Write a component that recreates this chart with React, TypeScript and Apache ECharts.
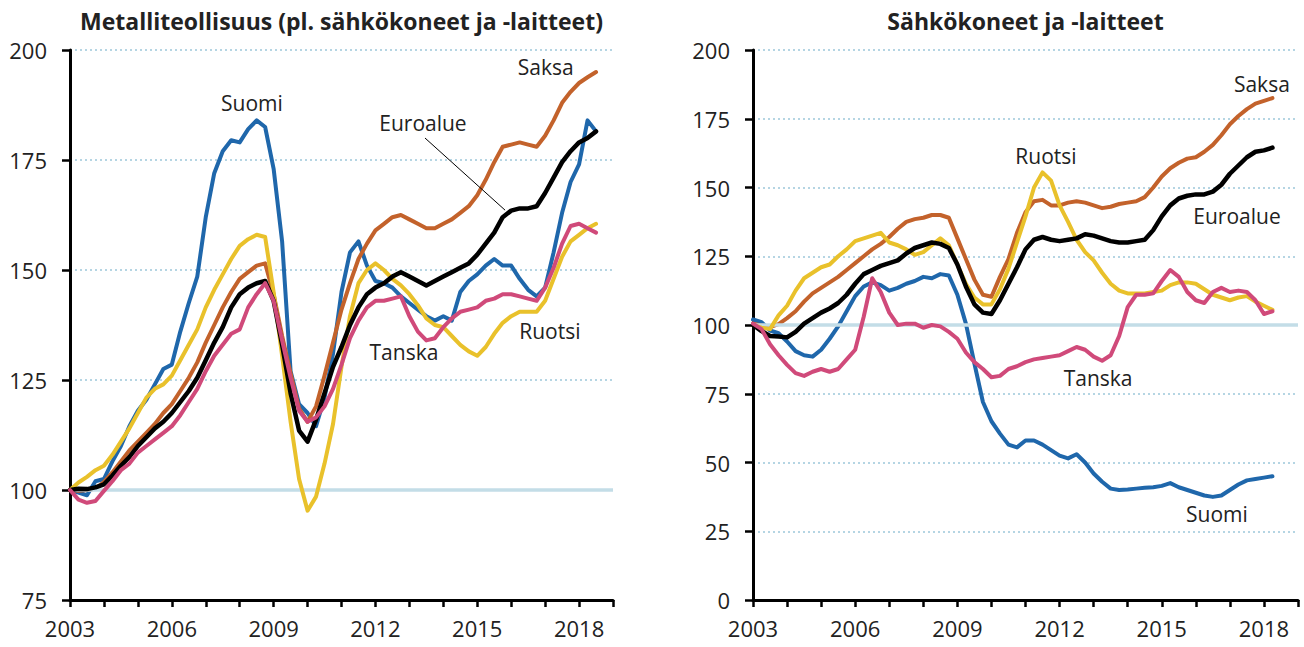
import { useEffect, useRef } from "react";
import * as echarts from "echarts";

// ---------- data (quarterly readings, index 100 = 2003) ----------
const START_YEAR = 2003;
const LEFT_END = 2018.5;
const RIGHT_END = 2018.25;

// Left panel: Metalliteollisuus (pl. sähkökoneet ja -laitteet)
const leftSuomi = [
  100, 99.4, 98.8, 102, 102.5, 106.5, 110, 114.5, 118, 120.5, 124, 127.5,
  128.5, 136, 142.5, 148.5, 162, 172, 177, 179.5, 179, 182, 184, 182.5,
  173, 156.5, 127, 119.5, 117.5, 114.5, 121, 131, 145, 154, 156.5, 151,
  147.5, 147, 146, 144, 142.5, 141, 139.5, 138.5, 139.5, 138.5, 145, 147.5,
  149, 151, 152.5, 151, 151, 148, 145.5, 144, 146, 154, 163, 170,
  174, 184, 181.5,
];
const leftSaksa = [
  100, 99.8, 100, 100.3, 101.8, 104, 106.5, 109, 111, 113, 115, 117.5,
  119.5, 122.5, 125.5, 129, 133.5, 137.5, 141.5, 145, 148, 149.5, 151, 151.5,
  144.5, 135, 126.5, 118.5, 115.5, 119, 126, 133.5, 141, 147, 152.5, 156,
  159, 160.5, 162, 162.5, 161.5, 160.5, 159.5, 159.5, 160.5, 161.5, 163, 164.5,
  167, 170.5, 174.5, 178, 178.5, 179, 178.5, 178, 180.5, 184, 188, 190.5,
  192.5, 193.8, 195,
];
const leftRuotsi = [
  100, 101.7, 103, 104.5, 105.5, 108, 111, 114, 117.5, 121, 123, 124,
  126, 129.5, 133, 136.5, 141.5, 145.5, 149, 152.5, 155.5, 157, 158, 157.5,
  145, 130.5, 115.5, 102.5, 95.3, 98.5, 106, 115, 128, 139.5, 147, 150,
  151.5, 150, 148, 146.5, 144.5, 142, 139, 137.5, 137, 135, 133, 131.5,
  130.5, 132.5, 135.5, 138, 139.5, 140.5, 140.5, 140.5, 143, 148, 153, 156.5,
  158, 159.5, 160.5,
];
const leftEuroalue = [
  100, 100.3, 100.2, 100.6, 101.3, 103.3, 105.5, 107.5, 110, 112, 114, 115.5,
  117.5, 120, 122.5, 125.5, 129.5, 133.5, 137, 141.5, 144.5, 146, 147, 147.5,
  143, 133, 122, 113.5, 111, 116, 122, 128, 132.5, 137.5, 141.5, 144.5,
  146, 147, 148.5, 149.5, 148.5, 147.5, 146.5, 147.5, 148.5, 149.5, 150.5, 151.5,
  153.5, 156, 158.5, 162, 163.5, 164, 164, 164.5, 167.5, 171, 174.5, 177,
  179, 180, 181.5,
];
const leftTanska = [
  100, 97.8, 97.1, 97.5, 99.8, 102, 104.5, 106, 108.5, 110, 111.5, 113,
  114.5, 117, 120, 123, 127, 130.5, 133, 135.5, 136.5, 141.5, 144.5, 147,
  143, 134, 125.5, 118, 115.5, 116.5, 119, 123, 128.5, 134.5, 138.5, 141.5,
  143, 143, 143.5, 144, 139.5, 136, 134, 134.5, 137, 139, 140.5, 141,
  141.5, 143, 143.5, 144.5, 144.5, 144, 143.5, 143, 146, 150.5, 156, 160,
  160.5, 159.5, 158.5,
];

// Right panel: Sähkökoneet ja -laitteet
const rightSuomi = [
  102, 101, 98, 97, 94, 90.5, 89, 88.5, 91, 95, 99.5, 105,
  110.5, 114, 115.5, 114.5, 112.5, 113.5, 115, 116, 117.5, 117, 118.5, 118,
  111, 100.5, 86, 72, 65, 60.5, 56.5, 55.5, 58, 58, 56.5, 54.5,
  52.5, 51.5, 53, 50, 46, 43, 40.5, 40, 40.2, 40.5, 40.8, 41,
  41.5, 42.5, 41, 40, 39, 38, 37.5, 38, 40, 42, 43.5, 44,
  44.5, 45,
];
const rightSaksa = [
  100.5, 99.8, 99.2, 100.3, 102.5, 105, 108.5, 111.5, 113.5, 115.5, 117.5, 120,
  122.5, 125, 127.5, 129.5, 132, 135, 137.5, 138.5, 139, 140, 140, 139,
  131.5, 124, 116.5, 111, 110.3, 117.5, 124, 133.5, 141, 145, 145.5, 143.5,
  143.5, 144.5, 145, 144.5, 143.5, 142.5, 143, 144, 144.5, 145, 146.5, 150,
  154, 157, 159, 160.5, 161, 163, 165.5, 169, 173, 176, 178.5, 180.5,
  181.5, 182.5,
];
const rightRuotsi = [
  100, 99, 98.5, 103.5, 107, 112.5, 117, 119, 121, 122, 125, 127.5,
  130.5, 131.5, 132.5, 133.5, 130, 129, 127.5, 125.5, 126.5, 129, 131.5, 129,
  122, 115, 110, 107.5, 107.5, 113, 120.5, 130, 139.5, 150, 155.5, 152.5,
  143.5, 137.5, 131, 126.5, 123.5, 119, 115, 112.5, 111.5, 111.5, 111.5, 112,
  112.5, 114.5, 115.5, 115.5, 115, 113, 111, 110, 109, 110, 110.5, 108.5,
  107, 105.5,
];
const rightEuroalue = [
  100, 97.8, 96, 95.8, 95.5, 97.5, 100.5, 102.5, 104.5, 106, 108, 111,
  115, 118.5, 120, 121.5, 122.5, 123.5, 126, 128, 129, 130, 129.5, 128,
  122, 114, 107.5, 104.5, 104, 109, 115, 121, 127.5, 131, 132, 131,
  130.5, 131, 131.5, 133, 132.5, 131.5, 130.5, 130, 130, 130.5, 131, 134.5,
  139.5, 143.5, 146, 147, 147.5, 147.5, 148.5, 151, 155, 158, 161, 163,
  163.5, 164.5,
];
const rightTanska = [
  100.5, 98.5, 93, 89, 85.5, 82.5, 81.5, 83, 84, 83, 84, 87.5,
  91, 103, 117, 112, 104.5, 100, 100.5, 100.5, 99, 100, 99.5, 97.5,
  95, 90, 86.5, 84, 81, 81.5, 84, 85, 86.5, 87.5, 88, 88.5,
  89, 90.5, 92, 91, 88.5, 87, 89, 96, 106.5, 111, 111, 111.5,
  116, 120, 117.5, 112, 109, 108, 112, 113.5, 112, 112.5, 112, 109,
  104, 105,
];

const seriesNames = ["Suomi", "Saksa", "Ruotsi", "Euroalue", "Tanska"];
const leftValues = [leftSuomi, leftSaksa, leftRuotsi, leftEuroalue, leftTanska];
const rightValues = [rightSuomi, rightSaksa, rightRuotsi, rightEuroalue, rightTanska];

const titles = ["Metalliteollisuus (pl. sähkökoneet ja -laitteet)", "Sähkökoneet ja -laitteet"];
const yRanges = [
  { min: 75, max: 200 },
  { min: 0, max: 200 },
];

// label anchors in data coordinates [year, value]
const leftLabels: [string, number, number][] = [
  ["Suomi", 2008.36, 188],
  ["Saksa", 2017.02, 196.1],
  ["Euroalue", 2013.4, 183.3],
  ["Tanska", 2012.84, 131.4],
  ["Ruotsi", 2017.14, 136.1],
];
const rightLabels: [string, number, number][] = [
  ["Saksa", 2017.94, 187.6],
  ["Ruotsi", 2011.6, 161.5],
  ["Euroalue", 2017.21, 139.6],
  ["Tanska", 2013.13, 80.7],
  ["Suomi", 2016.62, 31.3],
];
const leftLeader = { from: [2013.46, 180], to: [2015.82, 163.6] };

// ---------- styling ----------
const COLORS: Record<string, string> = {
  Suomi: "#1f67ab",
  Saksa: "#c3622b",
  Ruotsi: "#e9c12b",
  Euroalue: "#000000",
  Tanska: "#d04a7a",
};
const FONT = "'Open Sans', 'Noto Sans', sans-serif";
const TEXT = "#222222";

function quarters(start: number, end: number): number[] {
  const out: number[] = [];
  for (let k = 0; start + k * 0.25 <= end + 1e-9; k++) out.push(start + k * 0.25);
  return out;
}

export default function App() {
  const ref = useRef<HTMLDivElement>(null);

  useEffect(() => {
    document.body.style.margin = "0";
    if (!ref.current) return;
    const chart = echarts.init(ref.current, undefined, { renderer: "svg" });

    const times = [quarters(START_YEAR, LEFT_END), quarters(START_YEAR, RIGHT_END)];
    const panels = [leftValues, rightValues];

    const grids = [
      { left: 70, top: 50, width: 543, height: 550 },
      { left: 753, top: 50, width: 545, height: 550 },
    ];

    const xAxes = grids.map((_, i) => ({
      type: "value",
      gridIndex: i,
      min: 2003,
      max: 2019,
      interval: 1,
      axisLine: { show: true, onZero: false, lineStyle: { color: "#000", width: 3 } },
      axisTick: { show: true, length: 7, lineStyle: { color: "#000", width: 2.5 } },
      axisLabel: {
        formatter: (v: number) => ((v - 2003) % 3 === 0 && v < 2019 ? String(v) : ""),
        fontSize: 22,
        fontFamily: FONT,
        color: TEXT,
        margin: 17,
      },
      splitLine: { show: false },
    }));

    const yAxes = grids.map((_, i) => ({
      type: "value",
      gridIndex: i,
      min: yRanges[i].min,
      max: yRanges[i].max,
      interval: 25,
      axisLine: { show: true, lineStyle: { color: "#000", width: 3 } },
      axisTick: { show: true, length: 8, lineStyle: { color: "#000", width: 2.5 } },
      axisLabel: { fontSize: 22, fontFamily: FONT, color: TEXT, margin: 23 },
      splitLine: { show: true, lineStyle: { color: "#b5d5e3", width: 2, type: [2, 3] } },
    }));

    const series: any[] = [];
    panels.forEach((vals, p) => {
      series.push({
        type: "line",
        xAxisIndex: p,
        yAxisIndex: p,
        data: [],
        z: 1,
        silent: true,
        markLine: {
          silent: true,
          symbol: "none",
          label: { show: false },
          lineStyle: { color: "#c3dde7", width: 3.5, type: "solid" },
          data: [{ yAxis: 100 }],
        },
      });
      vals.forEach((arr, s) => {
        const name = seriesNames[s];
        series.push({
          name: name + p,
          type: "line",
          xAxisIndex: p,
          yAxisIndex: p,
          showSymbol: false,
          symbol: "none",
          silent: true,
          z: 3 + s,
          lineStyle: { color: COLORS[name], width: name === "Euroalue" ? 4.5 : 4, join: "round", cap: "round" },
          itemStyle: { color: COLORS[name] },
          data: arr.map((v, i) => [times[p][i], v]),
        });
      });
    });

    chart.setOption({
      animation: false,
      grid: grids,
      xAxis: xAxes,
      yAxis: yAxes,
      series,
    });

    const graphics: any[] = [];
    grids.forEach((g, i) => {
      graphics.push({
        type: "text",
        x: g.left + g.width / 2,
        y: 21,
        style: {
          text: titles[i],
          fontSize: 23,
          fontWeight: "bold",
          fontFamily: FONT,
          fill: TEXT,
          align: "center",
          verticalAlign: "middle",
        },
      });
    });
    [leftLabels, rightLabels].forEach((labels, p) => {
      labels.forEach(([text, t, v]) => {
        const pt = chart.convertToPixel({ gridIndex: p }, [t, v]) as number[];
        graphics.push({
          type: "text",
          x: pt[0],
          y: pt[1],
          z: 20,
          style: {
            text,
            fontSize: 21,
            fontFamily: FONT,
            fill: TEXT,
            align: "center",
            verticalAlign: "middle",
          },
        });
      });
    });
    const a = chart.convertToPixel({ gridIndex: 0 }, leftLeader.from) as number[];
    const b = chart.convertToPixel({ gridIndex: 0 }, leftLeader.to) as number[];
    graphics.push({
      type: "line",
      z: 20,
      shape: { x1: a[0], y1: a[1], x2: b[0], y2: b[1] },
      style: { stroke: "#000", lineWidth: 1 },
    });
    chart.setOption({ graphic: graphics });

    return () => chart.dispose();
  }, []);

  return <div ref={ref} style={{ width: 1304, height: 647 }} />;
}
